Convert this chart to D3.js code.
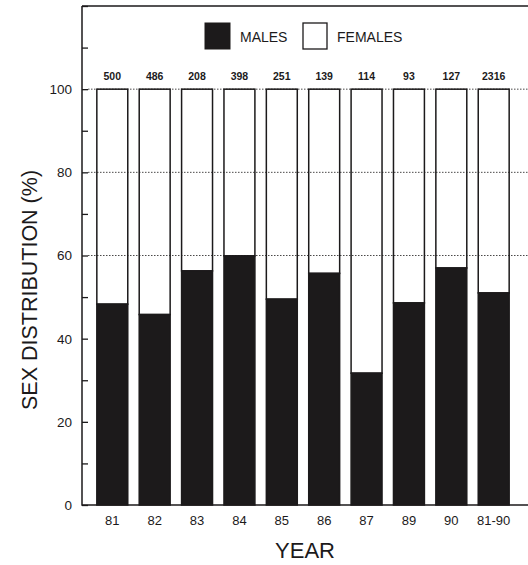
<!DOCTYPE html>
<html>
<head>
<meta charset="utf-8">
<script src="https://cdn.jsdelivr.net/npm/d3@7"></script>
<style>
  html, body { margin: 0; padding: 0; background: #fff; }
  svg { display: block; font-family: "Liberation Sans", Arial, sans-serif; }
</style>
</head>
<body>
<svg id="chart" width="528" height="565"></svg>
<script>
// Sex distribution of cases per year, with the number of cases above each bar
const years = ["81", "82", "83", "84", "85", "86", "87", "89", "90", "81-90"];
const malePct = [48.3, 45.8, 56.3, 59.9, 49.5, 55.7, 31.7, 48.6, 57.0, 51.0];
const counts = ["500", "486", "208", "398", "251", "139", "114", "93", "127", "2316"];
const yTickLabels = [0, 20, 40, 60, 80, 100];
const gridValues = [60, 80, 100];

const svg = d3.select("#chart");
const ink = "#1c1a1b";

const x = d3.scaleBand().domain(years).range([82, 524]).paddingInner(0.27).paddingOuter(0.35);
const y = d3.scaleLinear().domain([0, 120]).range([505, 6]);

// frame
svg.append("path")
  .attr("d", `M82,${y(120)} H540 M82,${y(120)} V${y(0)} H540`)
  .attr("fill", "none").attr("stroke", ink).attr("stroke-width", 1.5);

// inward ticks every 10
const yAxis = d3.axisRight(y).tickValues(d3.range(0, 121, 10)).tickSize(6).tickFormat("");
const ya = svg.append("g").attr("transform", "translate(82,0)").call(yAxis);
ya.select(".domain").remove();
ya.selectAll(".tick line").attr("stroke", ink).attr("stroke-width", 1.3);

// tick labels
svg.append("g").selectAll("text").data(yTickLabels).join("text")
  .attr("x", 72).attr("y", d => y(d)).attr("dy", "0.36em")
  .attr("text-anchor", "end").attr("font-size", 13.5).attr("fill", ink)
  .text(d => d);

// dotted gridlines
svg.append("g").selectAll("line").data(gridValues).join("line")
  .attr("x1", 88).attr("x2", 528).attr("y1", d => y(d)).attr("y2", d => y(d))
  .attr("stroke", ink).attr("stroke-width", 0.8).attr("stroke-dasharray", "1.5,1.5");

// bars: females (upper, outline) and males (lower, filled)
const bars = svg.append("g").selectAll("g").data(years).join("g");
bars.append("rect")
  .attr("x", d => x(d)).attr("width", x.bandwidth())
  .attr("y", y(100)).attr("height", (d, i) => y(malePct[i]) - y(100))
  .attr("fill", "none").attr("stroke", ink).attr("stroke-width", 1.5);
bars.append("rect")
  .attr("x", d => x(d)).attr("width", x.bandwidth())
  .attr("y", (d, i) => y(malePct[i])).attr("height", (d, i) => y(0) - y(malePct[i]))
  .attr("fill", ink).attr("stroke", ink).attr("stroke-width", 1.5);

// case counts
svg.append("g").selectAll("text").data(years).join("text")
  .attr("x", d => x(d) + x.bandwidth() / 2).attr("y", 80)
  .attr("text-anchor", "middle").attr("font-size", 10.5).attr("font-weight", "bold")
  .attr("fill", ink)
  .text((d, i) => counts[i]);

// x labels
svg.append("g").selectAll("text").data(years).join("text")
  .attr("x", d => x(d) + x.bandwidth() / 2).attr("y", 525)
  .attr("text-anchor", "middle").attr("font-size", 13).attr("fill", ink)
  .text(d => d);

// axis titles
svg.append("text").attr("x", 305).attr("y", 558).attr("text-anchor", "middle")
  .attr("font-size", 22).attr("fill", ink).text("YEAR");
svg.append("text").attr("transform", "translate(37,290) rotate(-90)")
  .attr("text-anchor", "middle").attr("font-size", 21.5).attr("fill", ink)
  .text("SEX DISTRIBUTION (%)");

// legend
const legend = svg.append("g");
legend.append("rect").attr("x", 205).attr("y", 23).attr("width", 25).attr("height", 26)
  .attr("fill", ink).attr("stroke", ink);
legend.append("text").attr("x", 240).attr("y", 42).attr("font-size", 14).attr("fill", ink).text("MALES");
legend.append("rect").attr("x", 303).attr("y", 23).attr("width", 24).attr("height", 26)
  .attr("fill", "none").attr("stroke", ink).attr("stroke-width", 1.3);
legend.append("text").attr("x", 337).attr("y", 42).attr("font-size", 14).attr("fill", ink).text("FEMALES");
</script>
</body>
</html>
